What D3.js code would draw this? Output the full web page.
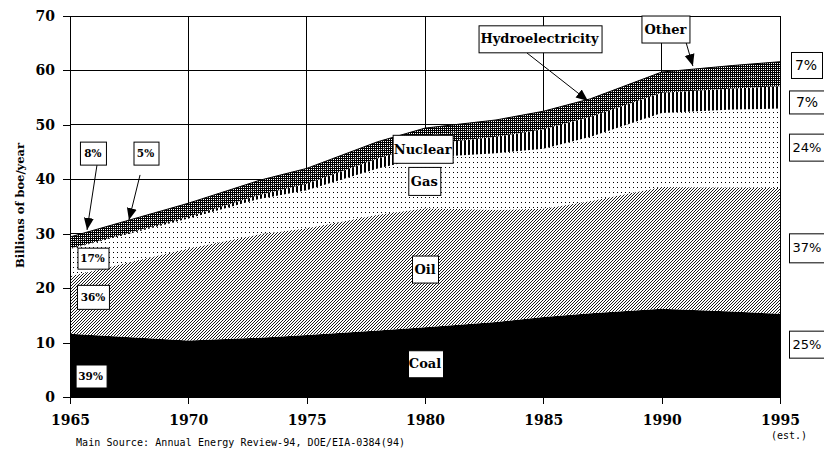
<!DOCTYPE html>
<html>
<head>
<meta charset="utf-8">
<script src="https://d3js.org/d3.v7.min.js"></script>
<style>
  body { margin: 0; background: #fff; }
  svg { display: block; }
</style>
</head>
<body>
<div id="chart"></div>
<script>
// Data, billions of boe/year
var years   = [1965, 1970, 1973, 1975, 1978, 1980, 1983, 1985, 1987, 1990, 1993, 1995];
var coal    = [11.6, 10.4, 10.9, 11.4, 12.2, 12.8, 13.8, 14.7, 15.4, 16.2, 15.7, 15.3];
var oil     = [10.6, 16.9, 19.0, 19.6, 21.3, 21.9, 20.6, 19.9, 20.6, 22.4, 22.8, 23.1];
var gas     = [5.0, 5.5, 6.5, 7.0, 8.5, 9.3, 10.4, 11.0, 11.8, 13.6, 14.3, 14.6];
var nuclear = [0.1, 0.3, 0.7, 1.2, 1.8, 2.4, 3.0, 3.6, 3.7, 3.7, 3.9, 4.1];
var hydro   = [1.1, 1.2, 1.3, 1.4, 1.5, 1.6, 1.7, 1.8, 1.8, 1.9, 2.0, 2.1];
var other   = [1.0, 1.3, 1.4, 1.4, 1.6, 1.4, 1.4, 1.5, 1.5, 1.9, 2.2, 2.4];

var keys = ['coal', 'oil', 'gas', 'nuclear', 'hydro', 'other'];
var xTicks = [1965, 1970, 1975, 1980, 1985, 1990, 1995];
var yTicks = [0, 10, 20, 30, 40, 50, 60, 70];
var startShares = ['39%', '36%', '17%', '8%', '5%'];   // coal, oil, gas, then the two arrows
var endShares = ['25%', '37%', '24%', '7%', '7%'];     // coal, oil, gas, nuclear, hydro+other

var width = 824,
    height = 451,
    serif = '"DejaVu Serif", serif',
    sans = '"DejaVu Sans", sans-serif',
    mono = '"DejaVu Sans Mono", monospace';

var rows = years.map(function(yr, i) {
  return { year: yr, coal: coal[i], oil: oil[i], gas: gas[i],
           nuclear: nuclear[i], hydro: hydro[i], other: other[i] };
});

var x = d3.scaleLinear().domain([1965, 1995]).range([70, 780]);
var y = d3.scaleLinear().domain([0, 70]).range([397, 16]);

var svg = d3.select('#chart').append('svg')
    .attr('width', width)
    .attr('height', height);

// Fill patterns (old mac style)
var defs = svg.append('defs');

function pattern(id, w, h) {
  var p = defs.append('pattern')
      .attr('id', id)
      .attr('patternUnits', 'userSpaceOnUse')
      .attr('width', w)
      .attr('height', h)
      .attr('shape-rendering', 'crispEdges');
  return p;
}

var pOil = pattern('p-oil', 3, 3);
pOil.append('rect').attr('width', 3).attr('height', 3).attr('fill', '#fff');
pOil.append('path')
    .attr('d', 'M0,3L3,0M-1,1L1,-1M2,4L4,2')
    .attr('stroke', '#000').attr('stroke-width', 0.9)
    .attr('shape-rendering', 'auto');

var pGas = pattern('p-gas', 4, 5);
pGas.append('rect').attr('width', 4).attr('height', 5).attr('fill', '#fff');
pGas.append('rect').attr('x', 1).attr('y', 2).attr('width', 1).attr('height', 1).attr('fill', '#000');

var pNuc = pattern('p-nuc', 4, 4);
pNuc.append('rect').attr('width', 4).attr('height', 4).attr('fill', '#fff');
pNuc.append('rect').attr('x', 0).attr('width', 2).attr('height', 4).attr('fill', '#000');

var pDark = pattern('p-dark', 2, 2);
pDark.append('rect').attr('width', 2).attr('height', 2).attr('fill', '#000');
pDark.append('rect').attr('x', 1).attr('y', 1).attr('width', 1).attr('height', 1).attr('fill', '#fff');

var fills = { coal: '#000', oil: 'url(#p-oil)', gas: 'url(#p-gas)',
              nuclear: 'url(#p-nuc)', hydro: 'url(#p-dark)', other: 'url(#p-dark)' };

defs.append('marker')
    .attr('id', 'arrow')
    .attr('viewBox', '-12 -6 13 12')
    .attr('refX', 0)
    .attr('refY', 0)
    .attr('markerWidth', 13)
    .attr('markerHeight', 12)
    .attr('markerUnits', 'userSpaceOnUse')
    .attr('orient', 'auto')
  .append('path')
    .attr('d', 'M0,0L-12,-5L-12,5Z')
    .attr('fill', '#000');

// Grid
svg.append('g').selectAll('line')
    .data(yTicks.slice(1))
  .enter().append('line')
    .attr('x1', x(1965)).attr('x2', x(1995))
    .attr('y1', function(d) { return y(d); })
    .attr('y2', function(d) { return y(d); })
    .attr('stroke', '#000').attr('stroke-width', 1)
    .attr('shape-rendering', 'crispEdges');

svg.append('g').selectAll('line')
    .data(xTicks.slice(1))
  .enter().append('line')
    .attr('x1', function(d) { return x(d); })
    .attr('x2', function(d) { return x(d); })
    .attr('y1', y(70)).attr('y2', y(0))
    .attr('stroke', '#000').attr('stroke-width', 1)
    .attr('shape-rendering', 'crispEdges');

// Stacked areas
var stack = d3.stack().keys(keys);
var series = stack(rows);

var area = d3.area()
    .x(function(d) { return x(d.data.year); })
    .y0(function(d) { return y(d[0]); })
    .y1(function(d) { return y(d[1]); });

svg.append('g').selectAll('path')
    .data(series)
  .enter().append('path')
    .attr('d', area)
    .attr('fill', function(d) { return fills[d.key]; });

// Top edge of the total
var topLine = d3.line()
    .x(function(d) { return x(d.data.year); })
    .y(function(d) { return y(d[1]); });

svg.append('path')
    .attr('d', topLine(series[series.length - 1]))
    .attr('fill', 'none')
    .attr('stroke', '#000')
    .attr('stroke-width', 1);

// Axes
var yAxis = d3.axisLeft(y).tickValues(yTicks).tickSize(7).tickSizeOuter(0).tickPadding(8);
var xAxis = d3.axisBottom(x).tickValues(xTicks).tickSize(7).tickSizeOuter(0).tickPadding(11)
    .tickFormat(d3.format('d'));

var gy = svg.append('g').attr('transform', 'translate(' + x(1965) + ',0)').call(yAxis);
var gx = svg.append('g').attr('transform', 'translate(0,' + y(0) + ')').call(xAxis);

[gy, gx].forEach(function(g) {
  g.selectAll('path, line').attr('stroke', '#000').attr('shape-rendering', 'crispEdges');
  g.selectAll('text')
      .attr('fill', '#000')
      .style('font-family', serif)
      .style('font-weight', 'bold')
      .style('font-size', '14px');
});

// Right border
svg.append('line')
    .attr('x1', x(1995)).attr('x2', x(1995))
    .attr('y1', y(70)).attr('y2', y(0))
    .attr('stroke', '#000')
    .attr('shape-rendering', 'crispEdges');

// Y title
svg.append('text')
    .attr('transform', 'translate(20,' + y(35.2) + ') rotate(-90)')
    .attr('text-anchor', 'middle')
    .attr('dominant-baseline', 'central')
    .style('font-family', serif)
    .style('font-weight', 'bold')
    .style('font-size', '11.5px')
    .text('Billions of boe/year');

// Notes under the axis
svg.append('text')
    .attr('x', 76).attr('y', 446)
    .style('font-family', mono)
    .style('font-size', '10px')
    .attr('textLength', 329)
    .text('Main Source: Annual Energy Review-94, DOE/EIA-0384(94)');

svg.append('text')
    .attr('x', x(1995) + 9).attr('y', 439)
    .attr('text-anchor', 'middle')
    .style('font-family', mono)
    .style('font-size', '10px')
    .text('(est.)');

// Arrows
function arrow(x1, y1, x2, y2) {
  svg.append('line')
      .attr('x1', x(x1)).attr('y1', y(y1))
      .attr('x2', x(x2)).attr('y2', y(y2))
      .attr('stroke', '#000')
      .attr('stroke-width', 1)
      .attr('marker-end', 'url(#arrow)');
}

arrow(1966.14, 42.6, 1965.72, 30.7);
arrow(1967.96, 40.8, 1967.49, 32.5);
arrow(1984.31, 63.2, 1986.89, 54.4);
arrow(1990.9, 67.1, 1991.32, 60.8);

// Boxed labels
function label(cx, cy, w, h, txt, font, size, weight, tx) {
  var g = svg.append('g').attr('transform', 'translate(' + cx + ',' + cy + ')');
  g.append('rect')
      .attr('x', Math.round(-w / 2) + 0.5)
      .attr('y', Math.round(-h / 2) + 0.5)
      .attr('width', w)
      .attr('height', h)
      .attr('fill', '#fff')
      .attr('stroke', '#000')
      .attr('stroke-width', 1);
  g.append('text')
      .attr('text-anchor', 'middle')
      .attr('dominant-baseline', 'central')
      .attr('x', tx || 0)
      .attr('y', 0.5)
      .style('font-family', font)
      .style('font-weight', weight)
      .style('font-size', size)
      .text(txt);
}

label(x(1980), y(6.2), 35, 27, 'Coal', serif, '13px', 'bold');
label(x(1980), y(23.6), 26, 27, 'Oil', serif, '13px', 'bold');
label(x(1979.97), y(39.7), 32, 28, 'Gas', serif, '13px', 'bold');
label(x(1979.9), y(45.6), 60, 28, 'Nuclear', serif, '13px', 'bold');
label(x(1984.84), y(65.9), 123, 27, 'Hydroelectricity', serif, '13px', 'bold');
label(x(1990.16), y(67.7), 48, 27, 'Other', serif, '13px', 'bold');

label(x(1965.87), y(3.95), 31, 23, startShares[0], serif, '10.5px', 'bold');
label(x(1965.97), y(18.4), 32, 24, startShares[1], serif, '10.5px', 'bold');
label(x(1965.95), y(25.6), 31, 21, startShares[2], serif, '10.5px', 'bold');
label(x(1965.97), y(44.9), 26, 23, startShares[3], serif, '10.5px', 'bold');
label(x(1968.19), y(44.9), 25, 23, startShares[4], serif, '10.5px', 'bold');

label(x(1995) + 30, y(9.8), 42, 27, endShares[0], sans, '13px', 'normal', -3);
label(x(1995) + 30, y(27.5), 42, 29, endShares[1], sans, '13px', 'normal', -3);
label(x(1995) + 30, y(46.0), 42, 27, endShares[2], sans, '13px', 'normal', -3);
label(x(1995) + 30, y(54.3), 42, 23, endShares[3], sans, '14px', 'normal', -3);
label(x(1995) + 26, y(61.0), 31, 26, endShares[4], sans, '14px', 'normal');
</script>
</body>
</html>
